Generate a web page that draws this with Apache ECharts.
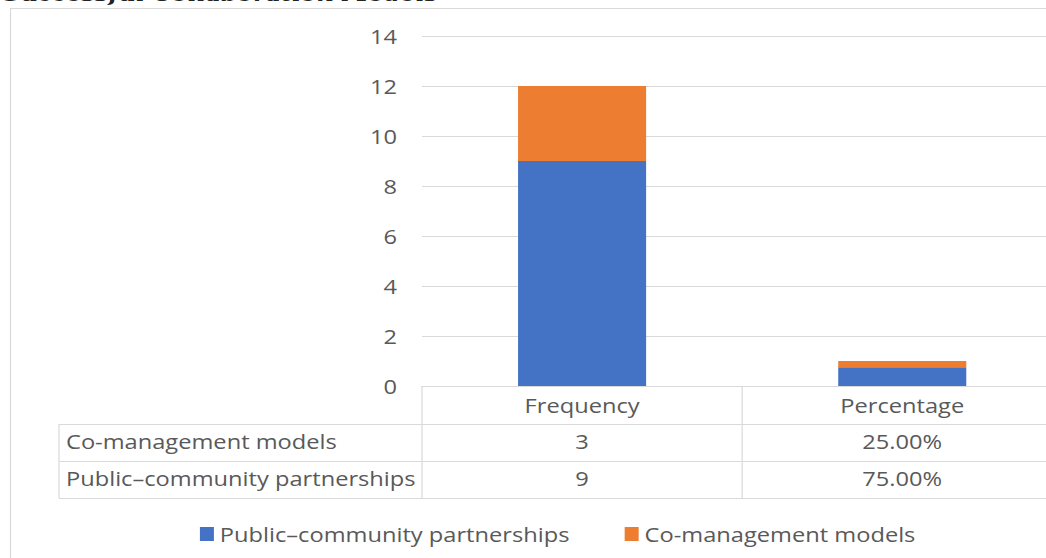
<!DOCTYPE html>
<html>
<head>
<meta charset="utf-8">
<style>
  html, body { margin: 0; padding: 0; background: #ffffff; overflow: hidden; }
  /* the drawing is laid out narrow and widened horizontally */
  #chart { width: 898px; height: 558px; transform: scaleX(1.183); transform-origin: 0 0; }
</style>
<script src="https://cdn.jsdelivr.net/npm/echarts@6/dist/echarts.min.js"></script>
</head>
<body>
<div id="chart"></div>
<script>
// Categories along the x axis (also the table's header row)
const categories = ['Frequency', 'Percentage'];
// Series, bottom to top in the stack
const publicCommunity = [9, 0.75];
const coManagement = [3, 0.25];
const seriesNames = ['Public\u2013community partnerships', 'Co-management models'];
// Table rows, listed top to bottom
const tableRows = [
  { name: 'Co-management models', values: coManagement },
  { name: 'Public\u2013community partnerships', values: publicCommunity }
];
const yTicks = { min: 0, max: 14, interval: 2 };

const BLUE = '#4472c4';
const ORANGE = '#ed7d31';
const TEXT = '#595959';
const LINE = '#d9d9d9';
const FONT = '"Open Sans", "Noto Sans", sans-serif';
const FS = 20;
const SX = 1.183;            // horizontal widening applied by the stylesheet
const px = v => v / SX;      // on-screen x distance -> layout x distance

const chart = echarts.init(document.getElementById('chart'), null, { renderer: 'svg' });

function cellText(colIndex, v) {
  return colIndex === 1 ? (v * 100).toFixed(2) + '%' : String(v);
}

chart.setOption({
  animation: false,
  textStyle: { fontFamily: FONT },
  title: {
    text: 'Successful Collaboration Models',
    left: px(-2),
    top: -21,
    textStyle: {
      fontFamily: '"DejaVu Serif", serif',
      fontStyle: 'italic',
      fontWeight: 'bold',
      fontSize: 20,
      color: '#222'
    }
  },
  legend: {
    data: seriesNames,
    left: px(194),
    top: 519,
    itemWidth: px(14),
    itemHeight: 14,
    itemGap: px(55),
    icon: 'rect',
    textStyle: { color: TEXT, fontSize: FS, fontFamily: FONT }
  },
  grid: { left: px(422), right: 0, top: 36, bottom: 172, containLabel: false },
  xAxis: {
    type: 'category',
    data: categories,
    axisLine: { show: true, lineStyle: { color: LINE, width: 1 } },
    axisTick: { show: false },
    axisLabel: { color: TEXT, fontSize: FS, margin: 9, fontFamily: FONT }
  },
  yAxis: {
    type: 'value',
    min: yTicks.min,
    max: yTicks.max,
    interval: yTicks.interval,
    axisLine: { show: false },
    axisTick: { show: false },
    axisLabel: { color: TEXT, fontSize: FS, margin: px(25), fontFamily: FONT },
    splitLine: { lineStyle: { color: LINE, width: 1 } }
  },
  series: [
    {
      name: seriesNames[0],
      type: 'bar',
      stack: 'total',
      data: publicCommunity,
      barWidth: '40%',
      itemStyle: { color: BLUE }
    },
    {
      name: seriesNames[1],
      type: 'bar',
      stack: 'total',
      data: coManagement,
      barWidth: '40%',
      itemStyle: { color: ORANGE }
    }
  ]
});

// Data table under the axis, positioned from the category axis
function drawTable() {
  const x0 = chart.convertToPixel({ xAxisIndex: 0 }, 0);
  const x1 = chart.convertToPixel({ xAxisIndex: 0 }, 1);
  const step = x1 - x0;
  const axisY = chart.convertToPixel({ yAxisIndex: 0 }, 0);
  const rowH = 37;
  const tableLeft = px(59);
  const colLeft = x0 - step / 2;
  const headBottom = axisY + rowH + 1;
  const tableBottom = headBottom + rowH * tableRows.length;
  const right = 1000;
  const els = [];
  const line = (xa, ya, xb, yb) => ({
    type: 'line',
    shape: { x1: xa, y1: ya, x2: xb, y2: yb },
    style: { stroke: LINE, lineWidth: 1 },
    silent: true
  });

  // chart frame
  els.push({
    type: 'rect',
    shape: { x: px(10.5), y: 8.5, width: 1000, height: 600 },
    style: { fill: null, stroke: LINE, lineWidth: 1 },
    silent: true,
    z: -1
  });

  // column boundaries
  for (let i = 0; i <= categories.length; i++) {
    const x = colLeft + i * step;
    els.push(line(x, axisY, x, tableBottom));
  }
  els.push(line(tableLeft, headBottom, tableLeft, tableBottom));
  // row boundaries
  for (let r = 0; r <= tableRows.length; r++) {
    const y = Math.round(headBottom + r * rowH) + 0.5;
    els.push(line(tableLeft, y, right, y));
  }
  // cells
  tableRows.forEach((row, r) => {
    const cy = headBottom + r * rowH + rowH / 2 - 1;
    els.push({
      type: 'text',
      style: {
        text: row.name, x: tableLeft + px(7), y: cy,
        textAlign: 'left', textVerticalAlign: 'middle',
        fill: TEXT, fontSize: FS, fontFamily: FONT
      },
      silent: true
    });
    row.values.forEach((v, c) => {
      els.push({
        type: 'text',
        style: {
          text: cellText(c, v),
          x: chart.convertToPixel({ xAxisIndex: 0 }, c), y: cy,
          textAlign: 'center', textVerticalAlign: 'middle',
          fill: TEXT, fontSize: FS, fontFamily: FONT
        },
        silent: true
      });
    });
  });
  chart.setOption({ graphic: { elements: els } });
}
drawTable();
</script>
</body>
</html>
